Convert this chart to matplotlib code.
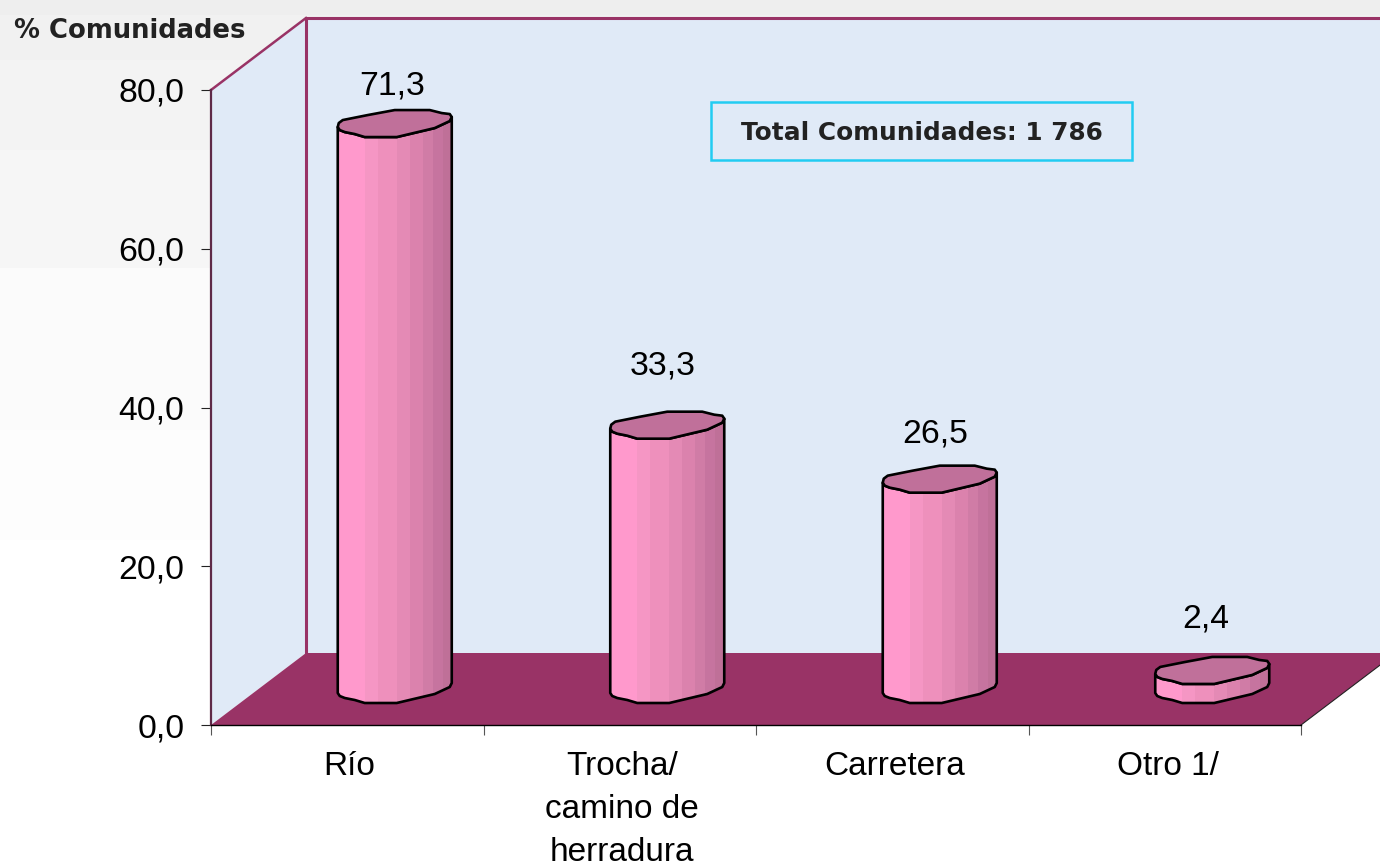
import matplotlib
matplotlib.use("Agg")
import matplotlib.pyplot as plt
from matplotlib.patches import Polygon, Rectangle

categorias = ["Río", "Trocha/\ncamino de\nherradura", "Carretera", "Otro 1/"]
valores = [71.3, 33.3, 26.5, 2.4]
etiquetas = ["71,3", "33,3", "26,5", "2,4"]
y_ticks = [0, 20, 40, 60, 80]
y_labels = ["0,0", "20,0", "40,0", "60,0", "80,0"]

W, H = 1380, 866
# plot box in pixels of the image
X0, X1, Y0, Y1 = 211, 1301, 725, 90
DX, DY = 95, 72  # depth of the 3d box

VINO = "#993366"
PARED = "#E0EAF7"
TAPA = "#C0709A"
FONT = ["Liberation Sans", "DejaVu Sans"]

fig = plt.figure(figsize=(W / 100, H / 100), dpi=100, facecolor="white")

# grey bands behind everything
for top, bottom, col in [(0, 15, "#EEEEEE"), (15, 60, "#F1F1F1"), (60, 150, "#F3F3F3"),
                         (150, 268, "#F6F6F6"), (268, 430, "#FBFBFB"), (430, 540, "#FDFDFD")]:
    fig.add_artist(Rectangle((0, 1 - bottom / H), 1, (bottom - top) / H,
                             transform=fig.transFigure, color=col, lw=0, zorder=-5))

ax = fig.add_axes([X0 / W, 1 - Y0 / H, (X1 - X0) / W, (Y0 - Y1) / H])
ax.patch.set_visible(False)
ax.set_xlim(0, len(valores))
ax.set_ylim(0, 80)

# pixels to data units
ux = len(valores) / (X1 - X0)
uy = 80 / (Y0 - Y1)


def off(x, y, dx, dy):
    # dy goes upward, in pixels
    return (x + dx * ux, y + dy * uy)


# walls and floor
a = off(0, 0, DX, DY)
b = off(0, 80, DX, DY)
c = off(4, 80, DX, DY)
d = off(4, 0, DX, DY)
ax.add_patch(Polygon([(0, 0), (0, 80), b, a], closed=True, fc=PARED, ec="none", clip_on=False, zorder=1))
ax.add_patch(Polygon([a, b, c, d], closed=True, fc=PARED, ec="none", clip_on=False, zorder=1))
ax.add_patch(Polygon([(0, 0), (4, 0), d, a], closed=True, fc=VINO, ec="none", clip_on=False, zorder=2))
ax.plot([0, b[0]], [80, b[1]], color=VINO, lw=1.8, clip_on=False, zorder=3)
ax.plot([a[0], b[0], c[0]], [a[1], b[1], c[1]], color=VINO, lw=2.2, clip_on=False, zorder=3)
ax.plot([0, 0], [0, 80], color="#5E2A48", lw=1.6, clip_on=False, zorder=3)
ax.plot([4, d[0]], [0, d[1]], color="#222222", lw=0.8, clip_on=False, zorder=3)

# outline of the cylinder cap, pixels from its centre
atras = [(-57, 4), (-56, 0), (-52, -3), (-27, -8), (0, -13), (35, -13), (47, -10), (55, -9), (57, -6)]
frente = [(57, -6), (55, -2), (40, 5), (2, 14), (-30, 14), (-40, 11), (-50, 9), (-55, 7), (-57, 4)]
# vertical shading of the side
cortes = [-57, -30, -17, 2, 15, 28, 38, 48, 57]
tonos = ["#FF99CC", "#F596C4", "#EE90BC", "#E48AB5", "#DB82AD", "#D07CA6", "#C6749F", "#BF7098"]
# where the value labels sit, pixels from the top of the bar
label_off = [(-3, 37), (-5, 59), (-5, 45), (-7, 51)]
# category labels sit a little right of the middle of the slot
label_dx = [2, 2, 2, 3]

for i, v in enumerate(valores):
    cx = i + 0.5 + (DX / 2) * ux
    base = (DY / 2) * uy
    top = v + base
    f_top = [(cx + p[0] * ux, top - p[1] * uy) for p in frente]
    f_bot = [(cx + p[0] * ux, base - p[1] * uy) for p in frente]
    cuerpo = f_top + f_bot[::-1]
    tapa = [(cx + p[0] * ux, top - p[1] * uy) for p in atras] + f_top
    body = Polygon(cuerpo, closed=True, fc="none", ec="black", lw=1.9, joinstyle="round",
                   clip_on=False, zorder=6)
    ax.add_patch(body)
    for j, col in enumerate(tonos):
        ll = ax.fill_between([cx + cortes[j] * ux, cx + cortes[j + 1] * ux], 0, top + 3,
                             color=col, lw=0, zorder=5, clip_on=True)
        ll.set_clip_path(body)
    ax.add_patch(Polygon(tapa, closed=True, fc=TAPA, ec="black", lw=1.9, joinstyle="round",
                         clip_on=False, zorder=7))
    lx, ly = off(cx, top, label_off[i][0], label_off[i][1])
    ax.text(lx, ly, etiquetas[i], ha="center", va="center", fontsize=24.3, family=FONT,
            color="black", zorder=8, clip_on=False)

# axes
for s in ["top", "right", "left"]:
    ax.spines[s].set_visible(False)
ax.spines["bottom"].set_color("black")
ax.spines["bottom"].set_linewidth(1.0)
ax.spines["bottom"].set_zorder(4)
ax.set_yticks(y_ticks)
ax.set_yticklabels(y_labels, fontsize=24.3, family=FONT)
ax.tick_params(axis="y", length=7.5, width=0.8, color="#222222", pad=11.5)
ax.set_xticks(range(len(valores) + 1))
ax.set_xticklabels([])
ax.tick_params(axis="x", which="major", length=7.5, width=0.8, color="#555555")
ax.set_xticks([i + 0.5 + label_dx[i] * ux for i in range(len(valores))], minor=True)
ax.set_xticklabels(categorias, minor=True, fontsize=24, family=FONT, linespacing=1.5)
ax.tick_params(axis="x", which="minor", length=0, pad=18.5)

fig.text(14 / W, 1 - 31 / H, "% Comunidades", fontsize=18.6, fontweight="bold", family="DejaVu Sans",
         color="#222222", ha="left", va="center")

# boxed note
ax.add_artist(Rectangle((711 / W, 1 - 160 / H), 421 / W, 58 / H, transform=fig.transFigure,
                        fc="none", ec="#22CCF2", lw=1.8, zorder=9, clip_on=False))
fig.text(921.5 / W, 1 - 133 / H, "Total Comunidades: 1 786", fontsize=17.8, fontweight="bold",
         family="DejaVu Sans", color="#222222", ha="center", va="center", zorder=10)

fig.savefig("out.png", dpi=100)
